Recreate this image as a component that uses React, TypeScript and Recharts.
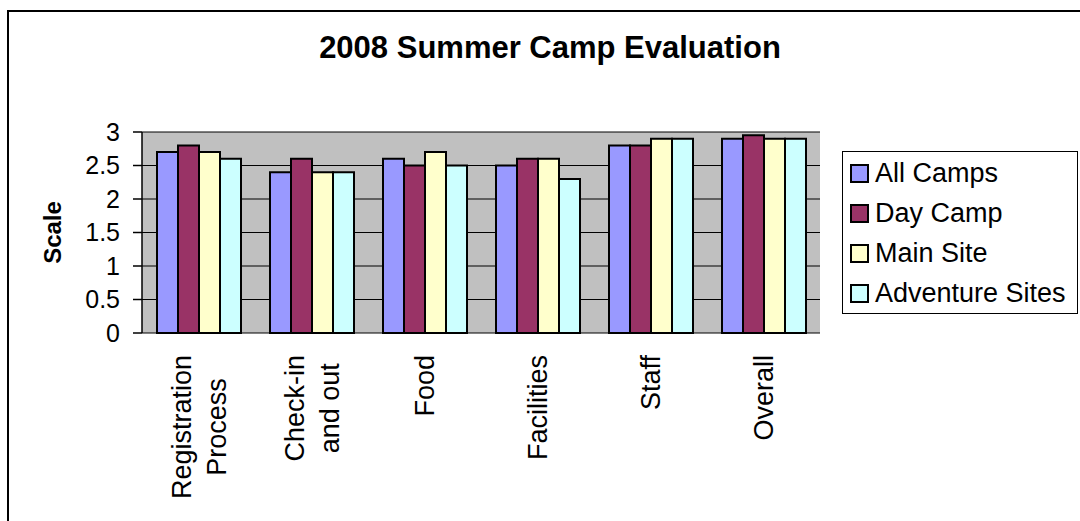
import React from "react";
import { Bar, BarChart, CartesianGrid, Label, Legend, ReferenceArea, XAxis, YAxis } from "recharts";

const categories = ["Registration\nProcess", "Check-in\nand out", "Food", "Facilities", "Staff", "Overall"];
const allCamps = [2.7, 2.4, 2.6, 2.5, 2.8, 2.9];
const dayCamp = [2.8, 2.6, 2.5, 2.6, 2.8, 2.95];
const mainSite = [2.7, 2.4, 2.7, 2.6, 2.9, 2.9];
const adventureSites = [2.6, 2.4, 2.5, 2.3, 2.9, 2.9];
const yTicks = [0, 0.5, 1, 1.5, 2, 2.5, 3];
const edgeTicks = [0, 1, 2, 3, 4, 5, 6];

const series = [
  { key: "allCamps", name: "All Camps", color: "#9999FF" },
  { key: "dayCamp", name: "Day Camp", color: "#993366" },
  { key: "mainSite", name: "Main Site", color: "#FFFFCC" },
  { key: "adventureSites", name: "Adventure Sites", color: "#CCFFFF" },
];

const data = categories.map((name, i) => ({
  name,
  allCamps: allCamps[i],
  dayCamp: dayCamp[i],
  mainSite: mainSite[i],
  adventureSites: adventureSites[i],
}));

const FONT = '"Liberation Sans", Arial, Helvetica, sans-serif';

let ctx: CanvasRenderingContext2D | null = null;
function textWidth(s: string, size: number) {
  if (!ctx) ctx = document.createElement("canvas").getContext("2d");
  if (!ctx) return s.length * size * 0.5;
  ctx.font = `${size}px ${FONT}`;
  return ctx.measureText(s).width;
}

// excel style: rotated, multi-line labels centred on each other, hanging from the axis
function CategoryTick(props: any) {
  const { x, y, payload } = props;
  const lines = String(payload.value).split("\n");
  const size = 27;
  const lineGap = 35;
  const cap = size * 0.716;
  const block = Math.max(...lines.map((l) => textWidth(l, size)));
  const top = y + 22;
  return (
    <g transform={`translate(${x}, ${top}) rotate(-90)`}>
      {lines.map((l, i) => (
        <text
          key={i}
          x={-block / 2}
          y={(i - (lines.length - 1) / 2) * lineGap + cap / 2}
          textAnchor="middle"
          fontSize={size}
          fontFamily={FONT}
          fill="#000"
        >
          {l}
        </text>
      ))}
    </g>
  );
}

function LegendBox({ payload }: any) {
  const order = series.map((s) => s.name);
  const items = [...(payload || [])].sort((a: any, b: any) => order.indexOf(a.value) - order.indexOf(b.value));
  return (
    <div
      style={{
        border: "1px solid #000",
        background: "#fff",
        boxSizing: "border-box",
        width: 236,
        height: 163,
        paddingTop: 1,
        paddingLeft: 7,
        fontFamily: FONT,
      }}
    >
      {items.map((p: any) => (
        <div key={p.value} style={{ display: "flex", alignItems: "center", height: 40 }}>
          <span
            style={{
              display: "inline-block",
              width: 15,
              height: 15,
              background: p.color,
              border: "2px solid #000",
              marginRight: 6,
            }}
          />
          <span style={{ fontSize: 27, color: "#000", lineHeight: "30px", whiteSpace: "nowrap" }}>{p.value}</span>
        </div>
      ))}
    </div>
  );
}

export default function App() {
  return (
    <div style={{ position: "absolute", left: 0, top: 0, width: 1080, height: 521, overflow: "hidden", fontFamily: FONT, background: "#fff" }}>
      <div
        style={{
          position: "absolute",
          left: 7,
          top: 10,
          width: 1100,
          height: 540,
          borderLeft: "2px solid #000",
          borderTop: "2px solid #000",
        }}
      />
      <div
        style={{
          position: "absolute",
          left: 0,
          top: 32,
          width: 1100,
          textAlign: "center",
          fontSize: 31,
          lineHeight: "31px",
          fontWeight: "bold",
          color: "#000",
        }}
      >
        2008 Summer Camp Evaluation
      </div>
      <div style={{ position: "absolute", left: 0, top: 0 }}>
        <BarChart
          width={1080}
          height={521}
          data={data}
          margin={{ top: 132, right: 260, bottom: 0, left: 0 }}
          barCategoryGap={15}
          barGap={0}
        >
          <CartesianGrid vertical={false} fill="#C0C0C0" stroke="#000" strokeWidth={1} />
          <XAxis
            xAxisId={0}
            type="number"
            domain={[0, 6]}
            allowDataOverflow
            ticks={edgeTicks}
            height={0}
            tickSize={9}
            tickFormatter={() => ""}
            axisLine={{ stroke: "#000", strokeWidth: 1.5 }}
            tickLine={{ stroke: "#000", strokeWidth: 1.5 }}
          />
          <XAxis
            xAxisId={1}
            dataKey="name"
            height={188}
            axisLine={false}
            tickLine={false}
            tickSize={0}
            tickMargin={0}
            interval={0}
            tick={<CategoryTick />}
          />
          <YAxis
            domain={[0, 3]}
            ticks={yTicks}
            width={142}
            tickSize={9}
            tickMargin={13}
            interval={0}
            axisLine={{ stroke: "#000", strokeWidth: 1.5 }}
            tickLine={{ stroke: "#000", strokeWidth: 1.5 }}
            tick={{ fill: "#000", fontSize: 25, fontFamily: FONT }}
          >
            <Label
              content={(p: any) => {
                const vb = p.viewBox || { x: 0, y: 132, width: 142, height: 201 };
                const cx = vb.x + 52;
                const cy = vb.y + vb.height / 2;
                return (
                  <text
                    x={cx}
                    y={cy}
                    transform={`rotate(-90 ${cx} ${cy})`}
                    textAnchor="middle"
                    dominantBaseline="central"
                    fontSize={24}
                    fontWeight="bold"
                    fontFamily={FONT}
                    fill="#000"
                  >
                    Scale
                  </text>
                );
              }}
            />
          </YAxis>
          <ReferenceArea xAxisId={0} x1={0} x2={6} y1={0} y2={3} fill="none" stroke="#808080" strokeWidth={2} />
          <Legend
            layout="vertical"
            align="center"
            verticalAlign="middle"
            itemSorter={null as any}
            content={<LegendBox />}
            wrapperStyle={{ left: 842, top: 151, width: 236, height: 163 }}
          />
          {series.map((s) => (
            <Bar
              key={s.key}
              xAxisId={1}
              dataKey={s.key}
              name={s.name}
              fill={s.color}
              stroke="#000"
              strokeWidth={2}
              isAnimationActive={false}
            />
          ))}
        </BarChart>
      </div>
    </div>
  );
}
